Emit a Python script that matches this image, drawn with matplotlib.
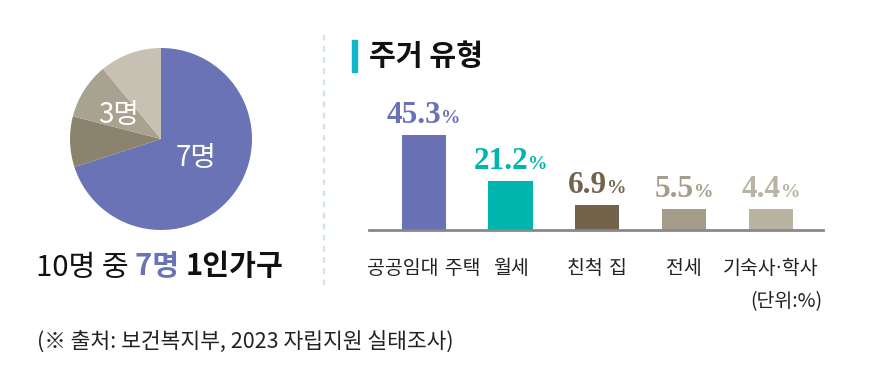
import matplotlib
matplotlib.use("Agg")
import matplotlib.pyplot as plt
from matplotlib.offsetbox import TextArea, HPacker, AnnotationBbox
from matplotlib.lines import Line2D
from matplotlib.patches import Rectangle

plt.rcParams['font.family'] = ['Noto Sans CJK KR', 'DejaVu Sans']

# ---- data ----
pie_labels = ['7명', '', '3명', '']
pie_values = [70, 9, 10, 11]
pie_colors = ['#6a73b5', '#8b836e', '#a8a290', '#c7c1b3']

categories = ['공공임대 주택', '월세', '친척 집', '전세', '기숙사·학사']
values = [45.3, 21.2, 6.9, 5.5, 4.4]
# bar heights as drawn in the source graphic (not to scale with the values)
bar_heights = [95, 49, 25, 21, 21]
bar_colors = ['#6a72b5', '#00b5ad', '#73634a', '#a59c89', '#b9b3a3']

title = '주거 유형'
unit_note = '(단위:%)'
source = '(※ 출처: 보건복지부, 2023 자립지원 실태조사)'

W, H = 886, 391
fig = plt.figure(figsize=(W / 100, H / 100), dpi=100)
fig.patch.set_facecolor('white')


def px_axes(x0, y0, x1, y1):
    return fig.add_axes([x0 / W, 1 - y1 / H, (x1 - x0) / W, (y1 - y0) / H])


# ---- pie ----
pax = px_axes(70, 48, 252, 230)
wedges, _ = pax.pie(pie_values, colors=pie_colors, startangle=90, counterclock=False,
                    radius=1.0, wedgeprops=dict(linewidth=0))
pax.set_xlim(-1, 1)
pax.set_ylim(-1, 1)
pax.set_aspect('equal')
pax.axis('off')
pax.text(0.39, -0.21, pie_labels[0], color='white', fontsize=20, ha='center', va='center',
         fontweight='light')
pax.text(-0.47, 0.26, pie_labels[2], color='white', fontsize=20, ha='center', va='center',
         fontweight='light')

# caption under pie
parts = [TextArea('10명 중 ', textprops=dict(fontsize=21, color='#111111', fontweight='light')),
         TextArea('7명 ', textprops=dict(fontsize=21, color='#6a73b5', fontweight='bold')),
         TextArea('1인가구', textprops=dict(fontsize=21, color='#111111', fontweight='bold'))]
box = HPacker(children=parts, align='baseline', pad=0, sep=0)
fig.add_artist(AnnotationBbox(box, (160 / W, 1 - 267 / H), xycoords='figure fraction',
                              box_alignment=(0.5, 0.5), frameon=False))

# separator
fig.add_artist(Line2D([324 / W, 324 / W], [1 - 35 / H, 1 - 288 / H], color='#cfe3ef',
                      linewidth=1.6, linestyle=(0, (2.5, 2.5))))

# title
fig.add_artist(Rectangle((352 / W, 1 - 72 / H), 5 / W, 32 / H, color='#13b5cb',
                         transform=fig.transFigure))
fig.text(369 / W, 1 - 56 / H, title, fontsize=21, fontweight='black', color='#111111',
         ha='left', va='center')

# ---- bars ----
bax = px_axes(369, 80, 823, 230)
x = list(range(len(categories)))
bax.bar(x, bar_heights, width=0.51, color=bar_colors, zorder=2)
bax.set_xlim(-0.63, 4.6)
bax.set_ylim(0, 150)
for s in ['top', 'right', 'left']:
    bax.spines[s].set_visible(False)
bax.spines['bottom'].set_color('#888888')
bax.spines['bottom'].set_linewidth(2)
bax.set_yticks([])
bax.set_xticks(x)
bax.set_xticklabels(categories, fontsize=14, color='#222222')
for lbl in bax.get_xticklabels():
    lbl.set_fontfamily(['DejaVu Sans', 'Noto Sans CJK KR'])
bax.tick_params(axis='x', length=0, pad=21)

for xi, h, v, c in zip(x, bar_heights, values, bar_colors):
    num = TextArea(f'{v:.1f}', textprops=dict(fontsize=22.5, color=c, fontweight='bold',
                                              family='Liberation Serif'))
    pct = TextArea('%', textprops=dict(fontsize=14, color=c, fontweight='bold',
                                       family='Liberation Serif'))
    pk = HPacker(children=[num, pct], align='baseline', pad=0, sep=0)
    bax.add_artist(AnnotationBbox(pk, (xi, h + 5), xycoords='data',
                                  box_alignment=(0.5, 0), frameon=False,
                                  annotation_clip=False))

fig.text(822 / W, 1 - 302 / H, unit_note, fontsize=14, color='#222222', ha='right',
         va='center')

fig.text(37 / W, 1 - 342 / H, source, fontsize=15.5, color='#222222', ha='left',
         va='center')

fig.savefig('out.png', dpi=100, facecolor='white')
